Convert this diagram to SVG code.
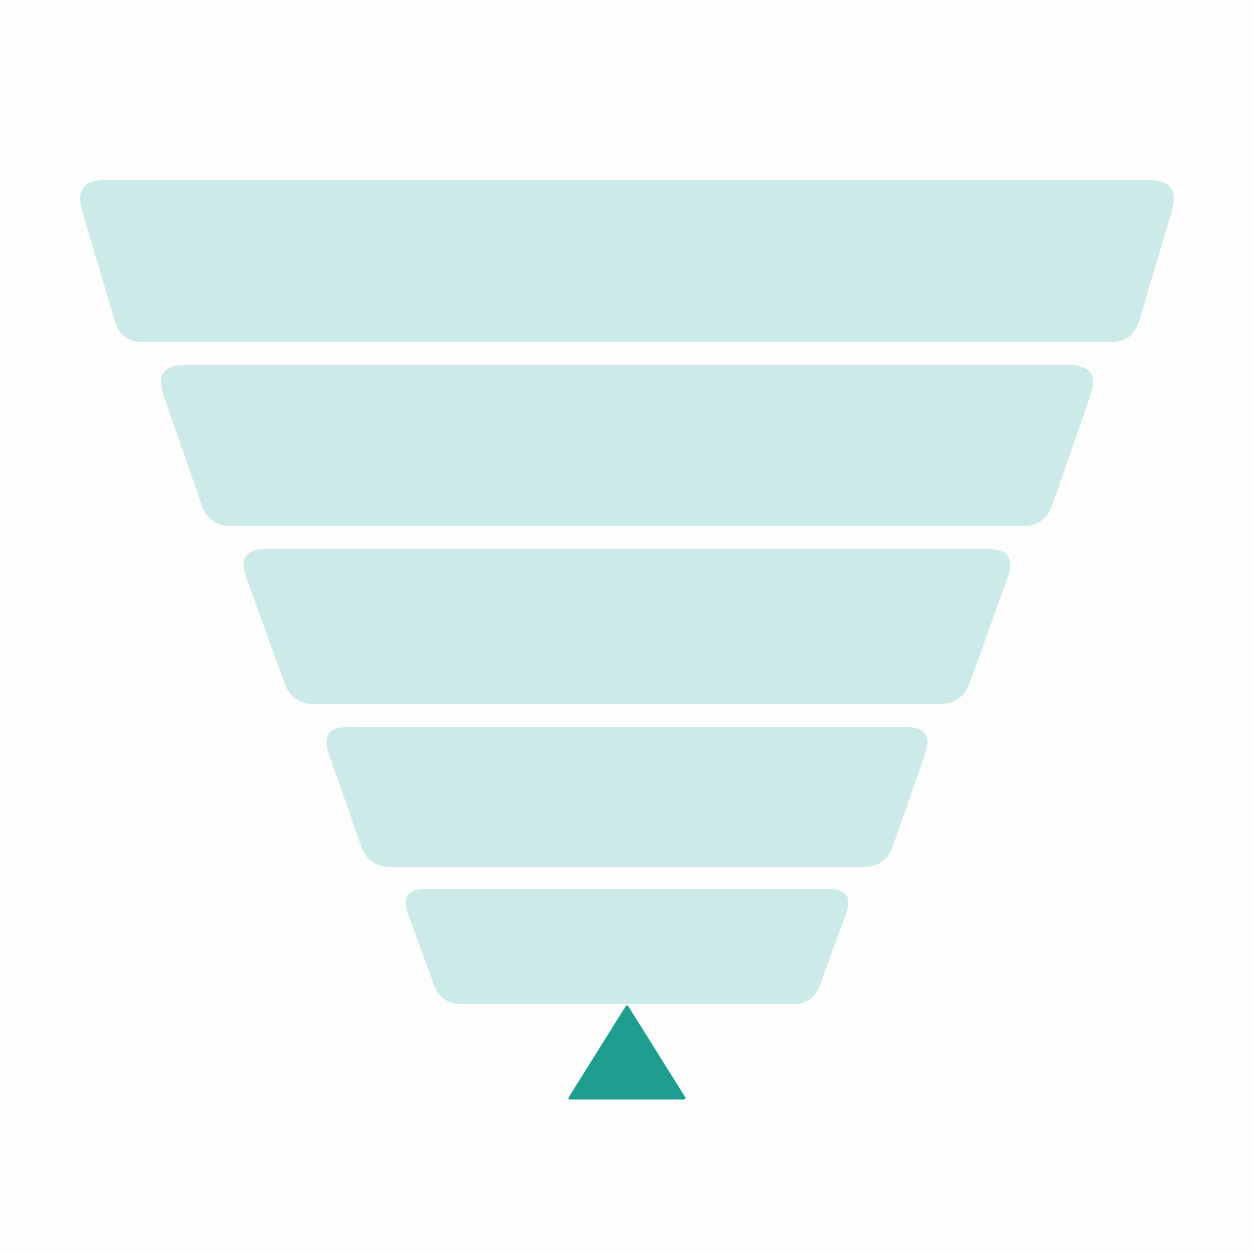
<svg xmlns="http://www.w3.org/2000/svg" width="1254" height="1254" viewBox="0 0 1254 1254">
  <style>
    .tier { fill: #cceae7; }
    .pointer { fill: #1e9e8f; stroke: #1e9e8f; stroke-width: 3; stroke-linejoin: round; }
  </style>
  <rect width="1254" height="1254" fill="#fdfdfd"/>
  <g id="tier1"><path class="tier" d="M 105,180 L 1149,180 Q 1181,180 1171.9,210.7 L 1139.2,320.9 Q 1133,342 1111,342 L 143,342 Q 121,342 114.8,320.9 L 82.1,210.7 Q 73,180 105,180 Z"/></g>
  <g id="tier2"><path class="tier" d="M 185,365 L 1069,365 Q 1101,365 1090.5,395.2 L 1052.2,505.2 Q 1045,526 1023,526 L 231,526 Q 209,526 201.8,505.2 L 163.5,395.2 Q 153,365 185,365 Z"/></g>
  <g id="tier3"><path class="tier" d="M 266,549 L 988,549 Q 1018,549 1007.8,577.2 L 969.5,683.3 Q 962,704 940,704 L 314,704 Q 292,704 284.5,683.3 L 246.2,577.2 Q 236,549 266,549 Z"/></g>
  <g id="tier4"><path class="tier" d="M 347.5,727 L 906.5,727 Q 934.5,727 925.3,753.4 L 892.8,846.2 Q 885.5,867 863.5,867 L 390.5,867 Q 368.5,867 361.2,846.2 L 328.7,753.4 Q 319.5,727 347.5,727 Z"/></g>
  <g id="tier5"><path class="tier" d="M 425,889 L 829,889 Q 855,889 846.1,913.4 L 819.9,985.2 Q 813,1004 793,1004 L 461,1004 Q 441,1004 434.1,985.2 L 407.9,913.4 Q 399,889 425,889 Z"/></g>
  <g id="pointer"><polygon class="pointer" points="627,1007 684,1098 570,1098"/></g>
  <g id="connectors"></g>
</svg>
